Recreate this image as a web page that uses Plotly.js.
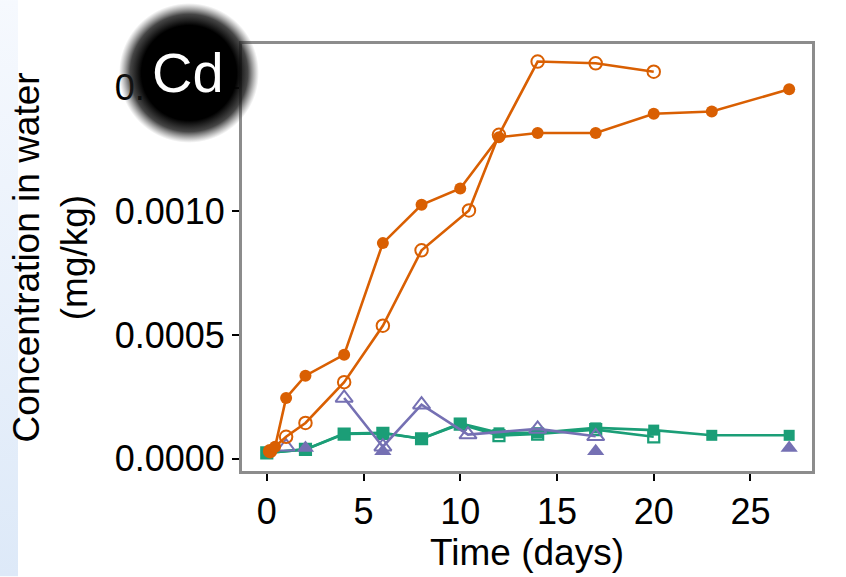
<!DOCTYPE html>
<html>
<head>
<meta charset="utf-8">
<script src="https://cdn.plot.ly/plotly-3.0.1.min.js"></script>
<style>
html,body{margin:0;padding:0;background:#ffffff;}
#chart{width:846px;height:577px;}
</style>
</head>
<body>
<div id="chart"></div>
<script>
// ---- data ----
var orangeFilledDays = [0.17, 0.43, 1, 2, 4, 6, 8, 10, 12, 14, 17, 20, 23, 27];
var orangeFilledVals = [0.000031, 0.000049, 0.000246, 0.000336, 0.000421, 0.000872, 0.001027, 0.001093, 0.001300, 0.001317, 0.001317, 0.001395, 0.001404, 0.001494];

var orangeOpenDays = [0.17, 1, 2, 4, 6, 8, 10.45, 12, 14, 17, 20];
var orangeOpenVals = [0.000031, 0.000089, 0.000145, 0.000310, 0.000538, 0.000843, 0.001004, 0.001310, 0.001606, 0.001599, 0.001565];

var greenFilledDays = [0, 2, 4, 6, 8, 10, 12, 14, 17, 20, 23, 27];
var greenFilledVals = [0.000024, 0.000038, 0.000102, 0.000105, 0.000081, 0.000143, 0.000105, 0.000105, 0.000125, 0.000116, 0.000095, 0.000095];

var greenOpenDays = [0, 2, 4, 6, 8, 10, 12, 14, 17, 20];
var greenOpenVals = [0.000024, 0.000038, 0.000100, 0.000103, 0.000081, 0.000140, 0.000094, 0.000100, 0.000118, 0.000089];

var purpleOpenDays = [1, 2, 4, 6, 8, 10.4, 14, 17];
var purpleOpenVals = [0.000049, null, 0.000246, 0.000049, 0.000219, 0.000098, 0.000121, 0.000091];

var purpleFilledDays = [2, 6, 17, 27];
var purpleFilledVals = [0.000044, 0.000031, 0.000031, 0.000044];

var xTicks = [0, 5, 10, 15, 20, 25];
var yTicks = [0, 0.0005, 0.0010, 0.0015];
var xTitle = 'Time (days)';
var yTitle = 'Concentration in water<br>(mg/kg)';
var badge = 'Cd';

// ---- styles ----
var ORANGE = '#d95f02', GREEN = '#1b9e77', PURPLE = '#7570b3';
var FONT = 'Liberation Sans, Arial, Helvetica, sans-serif';
var LW = 2.6;

var traces = [
  {x: greenOpenDays, y: greenOpenVals, mode: 'lines+markers', type: 'scatter',
   line: {color: GREEN, width: LW}, marker: {symbol: 'square-open', size: 11, color: GREEN, line: {width: 2.2, color: GREEN}}},
  {x: greenFilledDays, y: greenFilledVals, mode: 'lines+markers', type: 'scatter',
   line: {color: GREEN, width: LW}, marker: {symbol: 'square', size: 11, color: GREEN}},
  {x: purpleOpenDays, y: purpleOpenVals, mode: 'lines+markers', type: 'scatter', connectgaps: false,
   line: {color: PURPLE, width: LW}, marker: {symbol: 'triangle-up-open', size: 15, color: PURPLE, line: {width: 2, color: PURPLE}}},
  {x: purpleFilledDays, y: purpleFilledVals, mode: 'markers', type: 'scatter',
   marker: {symbol: 'triangle-up', size: 15, color: PURPLE}},
  {x: orangeOpenDays, y: orangeOpenVals, mode: 'lines+markers', type: 'scatter',
   line: {color: ORANGE, width: LW}, marker: {symbol: 'circle-open', size: 12.5, color: ORANGE, line: {width: 2, color: ORANGE}}},
  {x: orangeFilledDays, y: orangeFilledVals, mode: 'lines+markers', type: 'scatter',
   line: {color: ORANGE, width: LW}, marker: {symbol: 'circle', size: 12, color: ORANGE}}
];

var blob = 'data:image/svg+xml;utf8,' + encodeURIComponent(
  '<svg xmlns="http://www.w3.org/2000/svg" width="200" height="200" viewBox="0 0 200 200">' +
  '<defs><radialGradient id="g" cx="50%" cy="50%" r="50%">' +
  '<stop offset="0%" stop-color="#000" stop-opacity="1"/>' +
  '<stop offset="68%" stop-color="#000" stop-opacity="1"/>' +
  '<stop offset="84%" stop-color="#181818" stop-opacity="0.8"/>' +
  '<stop offset="100%" stop-color="#444" stop-opacity="0"/>' +
  '</radialGradient></defs><circle cx="100" cy="100" r="100" fill="url(#g)"/></svg>');

var strip = 'data:image/svg+xml;utf8,' + encodeURIComponent(
  '<svg xmlns="http://www.w3.org/2000/svg" width="20" height="200" viewBox="0 0 20 200" preserveAspectRatio="none">' +
  '<defs><linearGradient id="s" x1="0" y1="0" x2="0" y2="1">' +
  '<stop offset="0%" stop-color="#f6f9fe"/><stop offset="100%" stop-color="#dde9f8"/>' +
  '</linearGradient></defs><rect width="20" height="200" fill="url(#s)"/></svg>');

// plot area: x 242..812, y 44..471.5
var PW = 570, PH = 427.5, PL = 242, PB = 471.5;
function px(x){ return (x - PL) / PW; }
function py(y){ return (PB - y) / PH; }

var layout = {
  width: 846, height: 577,
  margin: {l: 242, r: 34, t: 44, b: 105.5},
  paper_bgcolor: '#ffffff', plot_bgcolor: '#ffffff',
  showlegend: false,
  font: {family: FONT, color: '#000'},
  xaxis: {
    range: [-1.28, 28.18], tickvals: xTicks, ticks: 'outside', ticklen: 7, tickwidth: 2, tickcolor: '#000',
    showline: true, mirror: true, linecolor: '#8c8c8c', linewidth: 3,
    showgrid: false, zeroline: false,
    tickfont: {family: FONT, size: 36, color: '#000'},
    title: {text: xTitle, font: {family: FONT, size: 37, color: '#000'}, standoff: 6}
  },
  yaxis: {
    range: [-0.0000493, 0.001677], tickvals: yTicks, tickformat: '.4f', ticks: 'outside', ticklen: 7, tickwidth: 2, tickcolor: '#000',
    showline: true, mirror: true, linecolor: '#8c8c8c', linewidth: 3,
    showgrid: false, zeroline: false,
    tickfont: {family: FONT, size: 36, color: '#000'},
    title: {text: yTitle, font: {family: FONT, size: 37, color: '#000'}, standoff: 16}
  },
  images: [
    {source: strip, xref: 'paper', yref: 'paper', x: px(0), y: py(0), sizex: 18 / PW, sizey: 577 / PH,
     xanchor: 'left', yanchor: 'top', sizing: 'stretch', layer: 'below'},
    {source: blob, xref: 'paper', yref: 'paper', x: px(119), y: py(3), sizex: 140 / PW, sizey: 140 / PH,
     xanchor: 'left', yanchor: 'top', sizing: 'stretch', layer: 'above'}
  ],
  annotations: [
    {text: badge, xref: 'paper', yref: 'paper', x: px(188), y: py(73), xanchor: 'center', yanchor: 'middle',
     showarrow: false, font: {family: FONT, size: 56, color: '#ffffff'}}
  ]
};

Plotly.newPlot('chart', traces, layout, {displayModeBar: false, staticPlot: true});
</script>
</body>
</html>
